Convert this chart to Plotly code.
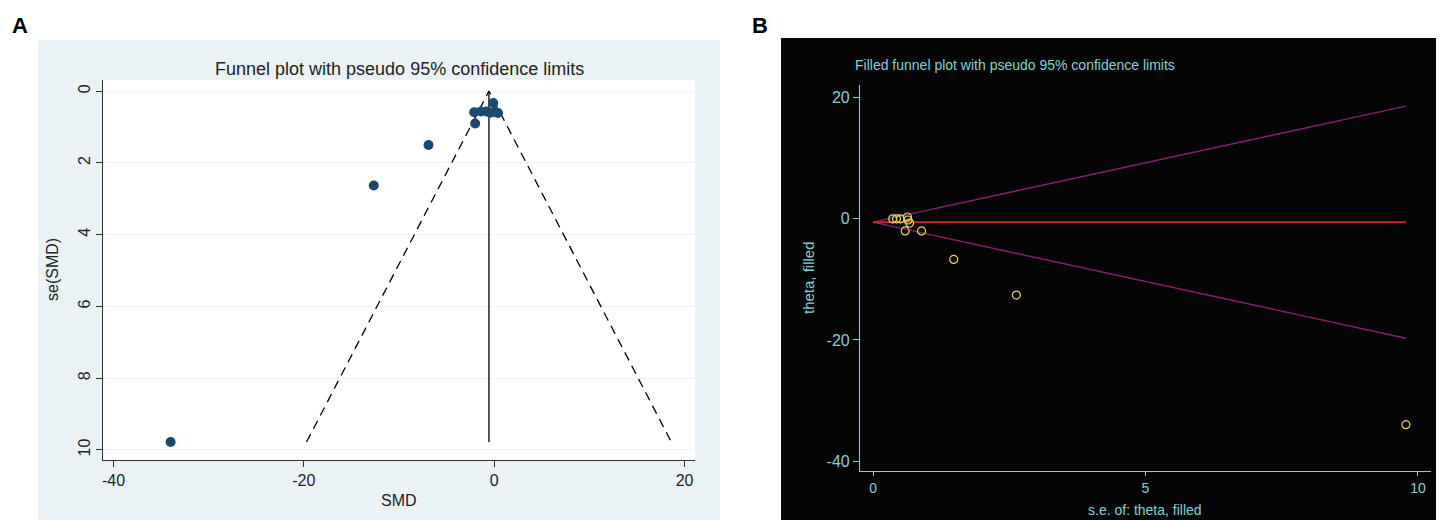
import plotly.graph_objects as go

# panel A: SMD vs se(SMD)
smd = [-34.0, -12.65, -6.9, -2.1, -2.0, -1.4, -0.8, -0.4, -0.1, 0.1, 0.4]
se_smd = [9.78, 2.63, 1.5, 0.59, 0.9, 0.57, 0.57, 0.6, 0.33, 0.58, 0.61]

# panel B: theta, filled vs s.e.
se_theta = [9.78, 2.63, 1.48, 0.89, 0.59, 0.36, 0.43, 0.5, 0.63, 0.64, 0.67]
theta = [-34.0, -12.6, -6.7, -2.0, -2.0, 0.0, 0.0, 0.0, 0.3, -0.2, -0.7]

pooled = -0.55
se_limit = [0, 9.78]
z95 = 1.96

a_xticks = [-40, -20, 0, 20]
a_yticks = [0, 2, 4, 6, 8, 10]
b_xticks = [0, 5, 10]
b_yticks = [20, 0, -20, -40]

narrow = "Liberation Sans Narrow, Liberation Sans, Arial"
cyan = "#86d0d4"
W, H = 1444, 520

def px_x(p):
    return p / W

def px_y(p):
    return 1 - p / H

def labels(vals):
    # stata uses a plain hyphen for negatives
    return [str(v) for v in vals]

fig = go.Figure()

# ---- panel A
lo = [pooled - z95 * s for s in se_limit]
hi = [pooled + z95 * s for s in se_limit]
fig.add_trace(go.Scatter(
    x=[lo[1], lo[0], hi[1]], y=[se_limit[1], se_limit[0], se_limit[1]],
    mode="lines", line=dict(color="black", width=1.3, dash="9px,6px"),
    xaxis="x", yaxis="y", hoverinfo="skip"))
fig.add_trace(go.Scatter(
    x=[pooled, pooled], y=se_limit, mode="lines",
    line=dict(color="black", width=1.3), xaxis="x", yaxis="y"))
fig.add_trace(go.Scatter(
    x=smd, y=se_smd, mode="markers",
    marker=dict(color="#1a4a72", size=10), xaxis="x", yaxis="y"))

# ---- panel B
fig.add_trace(go.Scatter(
    x=se_limit, y=hi, mode="lines", line=dict(color="#8a1f6e", width=1.4),
    xaxis="x2", yaxis="y2"))
fig.add_trace(go.Scatter(
    x=se_limit, y=lo, mode="lines", line=dict(color="#8a1f6e", width=1.4),
    xaxis="x2", yaxis="y2"))
fig.add_trace(go.Scatter(
    x=se_limit, y=[pooled, pooled], mode="lines", line=dict(color="#c42a2a", width=2),
    xaxis="x2", yaxis="y2"))
fig.add_trace(go.Scatter(
    x=se_theta, y=theta, mode="markers",
    marker=dict(color="rgba(0,0,0,0)", size=8, line=dict(color="#e8d85a", width=1.2)),
    xaxis="x2", yaxis="y2"))

shapes = [
    dict(type="rect", xref="paper", yref="paper", x0=px_x(30), x1=px_x(712),
         y0=px_y(518), y1=px_y(32), fillcolor="#eaf2f6", line=dict(width=0), layer="below"),
    dict(type="rect", xref="paper", yref="paper", x0=px_x(95), x1=px_x(687),
         y0=px_y(452), y1=px_y(72), fillcolor="white", line=dict(width=0), layer="below"),
    dict(type="rect", xref="paper", yref="paper", x0=px_x(773), x1=1,
         y0=px_y(518), y1=px_y(30), fillcolor="#050505", line=dict(width=0), layer="below"),
]

annotations = [
    dict(text="<b>A</b>", x=px_x(2), y=px_y(18), xref="paper", yref="paper",
         xanchor="left", yanchor="middle", showarrow=False,
         font=dict(family="Liberation Sans", size=22, color="black")),
    dict(text="<b>B</b>", x=px_x(742), y=px_y(18), xref="paper", yref="paper",
         xanchor="left", yanchor="middle", showarrow=False,
         font=dict(family="Liberation Sans", size=22, color="black")),
    dict(text="Funnel plot with pseudo 95% confidence limits", x=px_x(391), y=px_y(61),
         xref="paper", yref="paper", xanchor="center", yanchor="middle", showarrow=False,
         font=dict(family=narrow, size=18, color="#222")),
    dict(text="SMD", x=px_x(391), y=px_y(492), xref="paper", yref="paper",
         xanchor="center", yanchor="middle", showarrow=False,
         font=dict(family=narrow, size=16, color="#222")),
    dict(text="se(SMD)", x=px_x(44), y=px_y(262), xref="paper", yref="paper",
         xanchor="center", yanchor="middle", textangle=-90, showarrow=False,
         font=dict(family=narrow, size=16, color="#222")),
    dict(text="Filled funnel plot with pseudo 95% confidence limits", x=px_x(845), y=px_y(57),
         xref="paper", yref="paper", xanchor="left", yanchor="middle", showarrow=False,
         font=dict(family=narrow, size=14, color=cyan)),
    dict(text="s.e. of: theta, filled", x=px_x(1137), y=px_y(502), xref="paper", yref="paper",
         xanchor="center", yanchor="middle", showarrow=False,
         font=dict(family=narrow, size=14, color=cyan)),
    dict(text="theta, filled", x=px_x(800), y=px_y(270), xref="paper", yref="paper",
         xanchor="center", yanchor="middle", textangle=-90, showarrow=False,
         font=dict(family=narrow, size=15, color=cyan)),
]

fig.update_layout(
    width=W, height=H,
    margin=dict(l=0, r=0, t=0, b=0),
    paper_bgcolor="white", plot_bgcolor="rgba(0,0,0,0)",
    showlegend=False, shapes=shapes, annotations=annotations,
    xaxis=dict(domain=[px_x(95), px_x(687)], range=[-41.1, 21.1], anchor="y",
               tickvals=a_xticks, ticktext=labels(a_xticks),
               ticks="outside", ticklen=6, tickcolor="#333",
               showline=True, linecolor="#333", linewidth=1, showgrid=False, zeroline=False,
               tickfont=dict(family=narrow, size=16, color="#222")),
    yaxis=dict(domain=[px_y(452), px_y(72)], range=[10.28, -0.31], anchor="x",
               tickvals=a_yticks, ticktext=labels(a_yticks),
               ticks="outside", ticklen=6, tickcolor="#333", tickangle=-90,
               showline=True, linecolor="#333", linewidth=1, showgrid=True,
               gridcolor="#eef3f5", gridwidth=1, zeroline=False,
               tickfont=dict(family=narrow, size=16, color="#222")),
    xaxis2=dict(domain=[px_x(852), px_x(1423)], range=[-0.24, 10.24], anchor="y2",
                tickvals=b_xticks, ticktext=labels(b_xticks),
                ticks="outside", ticklen=4, tickcolor=cyan,
                showline=True, linecolor=cyan, linewidth=1.2, showgrid=False, zeroline=False,
                tickfont=dict(family=narrow, size=14, color=cyan)),
    yaxis2=dict(domain=[px_y(463), px_y(77)], range=[-41.65, 22.1], anchor="x2",
                tickvals=b_yticks, ticktext=labels(b_yticks),
                ticks="outside", ticklen=6, tickcolor=cyan,
                showline=True, linecolor=cyan, linewidth=1.2, showgrid=False, zeroline=False,
                tickfont=dict(family=narrow, size=16, color=cyan)),
)

fig.write_html("out.html")
